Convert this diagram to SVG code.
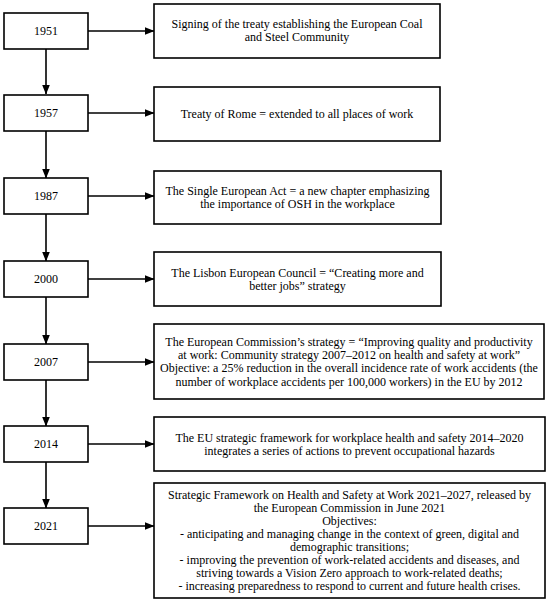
<svg xmlns="http://www.w3.org/2000/svg" width="550" height="603" viewBox="0 0 550 603">
<style>
.box{fill:#fff;stroke:#000;stroke-width:1.6}
.t{font-family:"Liberation Serif","Times New Roman",serif;font-size:12px;fill:#000;text-anchor:middle}
.c{stroke:#000;stroke-width:1.6;fill:none}
</style>
<defs>
<marker id="ah" markerWidth="10" markerHeight="8" refX="9.5" refY="4" orient="auto" markerUnits="userSpaceOnUse">
<path d="M0,0 L10,4 L0,8 Z" fill="#000"/>
</marker>
</defs>
<rect width="550" height="603" fill="#fff"/>
<g id="connectors">
<line class="c" x1="88" y1="31" x2="154" y2="31" marker-end="url(#ah)"/>
<line class="c" x1="88" y1="113" x2="154" y2="113" marker-end="url(#ah)"/>
<line class="c" x1="88" y1="196" x2="154" y2="196" marker-end="url(#ah)"/>
<line class="c" x1="88" y1="279" x2="154" y2="279" marker-end="url(#ah)"/>
<line class="c" x1="88" y1="362" x2="154" y2="362" marker-end="url(#ah)"/>
<line class="c" x1="88" y1="444" x2="154" y2="444" marker-end="url(#ah)"/>
<line class="c" x1="88" y1="526" x2="154" y2="526" marker-end="url(#ah)"/>
<line class="c" x1="46" y1="49" x2="46" y2="94" marker-end="url(#ah)"/>
<line class="c" x1="46" y1="131" x2="46" y2="178" marker-end="url(#ah)"/>
<line class="c" x1="46" y1="214" x2="46" y2="261" marker-end="url(#ah)"/>
<line class="c" x1="46" y1="297" x2="46" y2="344" marker-end="url(#ah)"/>
<line class="c" x1="46" y1="380" x2="46" y2="426" marker-end="url(#ah)"/>
<line class="c" x1="46" y1="462" x2="46" y2="508" marker-end="url(#ah)"/>
</g>
<g id="y1951"><rect class="box" x="4" y="13" width="84" height="36"/><text class="t" x="46" y="35">1951</text></g>
<g id="y1957"><rect class="box" x="4" y="95" width="84" height="36"/><text class="t" x="46" y="117">1957</text></g>
<g id="y1987"><rect class="box" x="4" y="178" width="84" height="36"/><text class="t" x="46" y="200">1987</text></g>
<g id="y2000"><rect class="box" x="4" y="261" width="84" height="36"/><text class="t" x="46" y="283">2000</text></g>
<g id="y2007"><rect class="box" x="4" y="344" width="84" height="36"/><text class="t" x="46" y="366">2007</text></g>
<g id="y2014"><rect class="box" x="4" y="426" width="84" height="36"/><text class="t" x="46" y="448">2014</text></g>
<g id="y2021"><rect class="box" x="4" y="508" width="84" height="36"/><text class="t" x="46" y="530">2021</text></g>
<g id="e1951"><rect class="box" x="154" y="4" width="286" height="54"/>
<text class="t" x="297" y="28">Signing of the treaty establishing the European Coal</text>
<text class="t" x="297" y="41">and Steel Community</text></g>
<g id="e1957"><rect class="box" x="154" y="87" width="286" height="54"/>
<text class="t" x="297" y="118">Treaty of Rome = extended to all places of work</text></g>
<g id="e1987"><rect class="box" x="154" y="171" width="287" height="53"/>
<text class="t" x="297.5" y="195">The Single European Act = a new chapter emphasizing</text>
<text class="t" x="297.5" y="208">the importance of OSH in the workplace</text></g>
<g id="e2000"><rect class="box" x="154" y="252" width="287" height="54"/>
<text class="t" x="297.5" y="276.5">The Lisbon European Council = “Creating more and</text>
<text class="t" x="297.5" y="289.5">better jobs” strategy</text></g>
<g id="e2007"><rect class="box" x="154" y="324" width="390" height="75"/>
<text class="t" x="349" y="346">The European Commission’s strategy = “Improving quality and productivity</text>
<text class="t" x="349" y="359">at work: Community strategy 2007–2012 on health and safety at work”</text>
<text class="t" x="349" y="372">Objective: a 25% reduction in the overall incidence rate of work accidents (the</text>
<text class="t" x="349" y="386">number of workplace accidents per 100,000 workers) in the EU by 2012</text></g>
<g id="e2014"><rect class="box" x="154" y="417" width="391" height="54"/>
<text class="t" x="349.5" y="442">The EU strategic framework for workplace health and safety 2014–2020</text>
<text class="t" x="349.5" y="455">integrates a series of actions to prevent occupational hazards</text></g>
<g id="e2021"><rect class="box" x="154" y="483" width="391" height="115"/>
<text class="t" x="349.5" y="499">Strategic Framework on Health and Safety at Work 2021–2027, released by</text>
<text class="t" x="349.5" y="512">the European Commission in June 2021</text>
<text class="t" x="349.5" y="525">Objectives:</text>
<text class="t" x="349.5" y="538">- anticipating and managing change in the context of green, digital and</text>
<text class="t" x="349.5" y="551">demographic transitions;</text>
<text class="t" x="349.5" y="564">- improving the prevention of work-related accidents and diseases, and</text>
<text class="t" x="349.5" y="577">striving towards a Vision Zero approach to work-related deaths;</text>
<text class="t" x="349.5" y="590">- increasing preparedness to respond to current and future health crises.</text></g>
</svg>
